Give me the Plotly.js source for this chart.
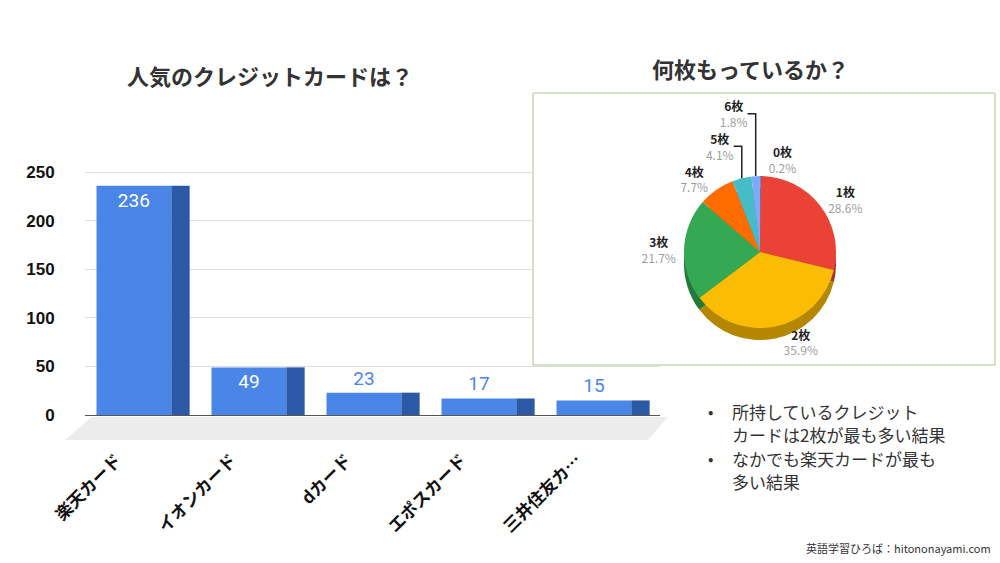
<!DOCTYPE html>
<html>
<head>
<meta charset="utf-8">
<script src="https://cdn.plot.ly/plotly-3.0.1.min.js"></script>
<style>
  html, body { margin: 0; padding: 0; background: #fff; }
  #chart { width: 1000px; height: 563px; }
</style>
</head>
<body>
<div id="chart"></div>
<script>
// bar chart data
const cardNames = ['楽天カード', 'イオンカード', 'dカード', 'エポスカード', '三井住友カ…'];
const cardVotes = [236, 49, 23, 17, 15];
const voteTicks = [0, 50, 100, 150, 200, 250];

// pie chart data (percent of answers)
const cardCounts = ['0枚', '1枚', '2枚', '3枚', '4枚', '5枚', '6枚'];
const countShares = [0.2, 28.6, 35.9, 21.7, 7.7, 4.1, 1.8];
const sliceColors = ['#4285f4', '#ea4335', '#fbbc04', '#34a853', '#ff6d01', '#46bdc6', '#7baaf7'];
const sliceEdges = ['#2a5bb0', '#a8302a', '#b58700', '#237a3b', '#b54d00', '#2f8a91', '#5478b3'];

// side notes
const noteLines = ['所持しているクレジット', 'カードは2枚が最も多い結果', 'なかでも楽天カードが最も', '多い結果'];
const noteBullets = [true, false, true, false];

const jp = '"Noto Sans CJK JP", "Noto Sans", sans-serif';
const yDomain = [0.2185, 0.7336];
const yRange = [-25.7, 272.7];

// pixel helpers for paper placement
const px = (x) => x / 1000;
const py = (y) => 1 - y / 563;

const start = () => {
    const lowTicks = voteTicks.filter((v) => v < 100);
    const highTicks = voteTicks.filter((v) => v >= 100);

    // pie box: centre (760, 252), radius 76px
    const pieX = [px(684), px(836)];
    const pieTop = [py(328), py(176)];
    const pieBase = [py(340), py(188)];

    let data = [
        // empty trace so the grid-only subplot gets drawn
        { type: 'scatter', x: [], y: [], xaxis: 'x', yaxis: 'y', hoverinfo: 'skip', showlegend: false },
        {
            type: 'bar', x: cardNames, y: cardVotes, xaxis: 'x2', yaxis: 'y2',
            width: 0.16, offset: 0.25,
            marker: { color: '#2c59a6' },
            hoverinfo: 'skip', showlegend: false
        },
        {
            type: 'bar', x: cardNames, y: cardVotes, xaxis: 'x2', yaxis: 'y2',
            width: 0.65, offset: -0.4,
            marker: { color: '#4a86e8' },
            texttemplate: '%{y}',
            textposition: cardVotes.map((v) => v > 40 ? 'inside' : 'outside'),
            insidetextanchor: 'end',
            insidetextfont: { family: 'Roboto, sans-serif', size: 19, color: '#ffffff' },
            outsidetextfont: { family: 'Roboto, sans-serif', size: 19, color: '#4a86e8' },
            cliponaxis: false,
            hoverinfo: 'skip', showlegend: false
        },
        {
            type: 'pie', labels: cardCounts, values: countShares,
            sort: false, direction: 'clockwise', rotation: 0,
            domain: { x: pieX, y: pieBase },
            marker: { colors: sliceEdges },
            textinfo: 'none', hoverinfo: 'skip', showlegend: false
        },
        {
            type: 'pie', labels: cardCounts, values: countShares,
            sort: false, direction: 'clockwise', rotation: 0,
            domain: { x: pieX, y: pieTop },
            marker: { colors: sliceColors },
            textposition: 'outside',
            texttemplate: '<b>%{label}</b><br><span style="color:#9e9e9e">%{percent:.1%}</span>',
            textfont: { family: jp, size: 12, color: '#222' },
            hoverinfo: 'skip', showlegend: false
        }
    ];

    const tickFont = { family: '"Liberation Sans", Arial, sans-serif', size: 17, color: '#111', weight: 'bold' };

    const notes = [];
    noteLines.forEach((line, i) => {
        const y = 411 + i * 23.5;
        notes.push({
            text: line, xref: 'paper', yref: 'paper', x: px(730), y: py(y),
            xanchor: 'left', yanchor: 'middle', showarrow: false,
            font: { family: jp, size: 17, color: '#333' }
        });
        if (noteBullets[i]) {
            notes.push({
                text: '•', xref: 'paper', yref: 'paper', x: px(710), y: py(y),
                xanchor: 'center', yanchor: 'middle', showarrow: false,
                font: { family: jp, size: 16, color: '#333' }
            });
        }
    });

    let layout = {
        width: 1000, height: 563,
        margin: { l: 0, r: 0, t: 0, b: 0 },
        paper_bgcolor: '#ffffff',
        plot_bgcolor: 'rgba(0,0,0,0)',
        xaxis: {
            domain: [0.085, 0.533], range: [0, 1], anchor: 'y',
            showticklabels: false, showgrid: false, zeroline: false, showline: false
        },
        yaxis: {
            domain: yDomain, range: yRange, anchor: 'x',
            tickvals: highTicks, showgrid: true, gridcolor: '#dddddd', zeroline: false,
            ticks: 'outside', ticklen: 26, tickcolor: 'rgba(0,0,0,0)',
            tickfont: tickFont
        },
        xaxis2: {
            domain: [0.085, 0.66], anchor: 'y2',
            range: [-0.5, cardNames.length - 0.5],
            tickangle: -45, ticklabelshift: -26, ticklabelstandoff: 6,
            tickfont: { family: jp, size: 17, color: '#111', weight: 'bold' },
            showgrid: false, zeroline: false, showline: false
        },
        yaxis2: {
            domain: yDomain, range: yRange, anchor: 'x2',
            tickvals: lowTicks, showgrid: true, gridcolor: '#dddddd',
            zeroline: true, zerolinecolor: '#555555', zerolinewidth: 1,
            ticks: 'outside', ticklen: 26, tickcolor: 'rgba(0,0,0,0)',
            tickfont: tickFont
        },
        shapes: [
            {
                type: 'path', xref: 'paper', yref: 'paper', layer: 'below',
                path: 'M 0.065 0.2185 L 0.092 0.2593 L 0.668 0.2593 L 0.648 0.2185 Z',
                fillcolor: '#ececec', line: { width: 0 }
            },
            {
                type: 'rect', xref: 'paper', yref: 'paper', layer: 'below',
                x0: px(533), x1: px(995), y0: py(365), y1: py(93),
                fillcolor: 'rgba(0,0,0,0)', line: { color: '#a9c690', width: 1 }
            }
        ],
        annotations: [
            {
                text: '人気のクレジットカードは？', xref: 'paper', yref: 'paper',
                x: px(270), y: py(75), xanchor: 'center', yanchor: 'middle', showarrow: false,
                font: { family: jp, size: 22, color: '#333', weight: 'bold' }
            },
            {
                text: '何枚もっているか？', xref: 'paper', yref: 'paper',
                x: px(750), y: py(68), xanchor: 'center', yanchor: 'middle', showarrow: false,
                font: { family: jp, size: 22, color: '#333', weight: 'bold' }
            },
            ...notes,
            {
                text: '英語学習ひろば：hitononayami.com', xref: 'paper', yref: 'paper',
                x: px(993), y: py(548), xanchor: 'right', yanchor: 'middle', showarrow: false,
                font: { family: jp, size: 11, color: '#333' }
            }
        ]
    };

    Plotly.newPlot('chart', data, layout, { displayModeBar: false, staticPlot: true });
}

start();
</script>
</body>
</html>
